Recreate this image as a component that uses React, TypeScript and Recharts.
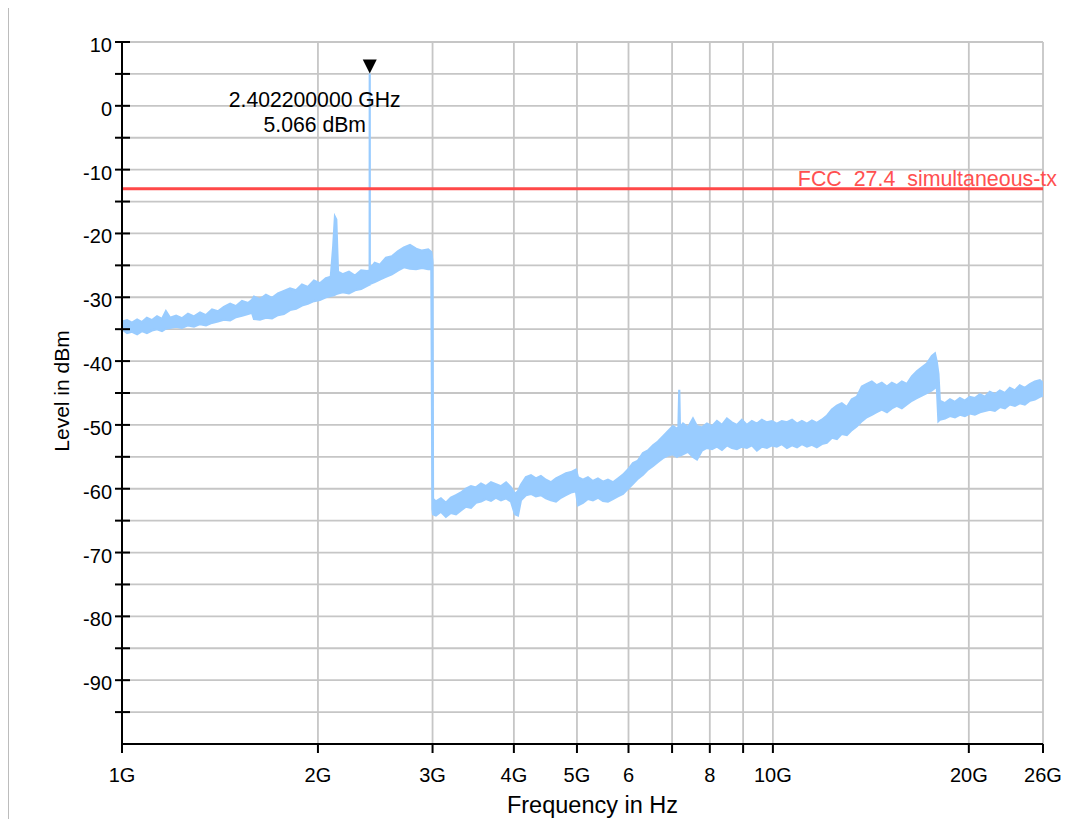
import { Area, CartesianGrid, ComposedChart, ReferenceDot, ReferenceLine, XAxis, YAxis } from "recharts"

// spectrum sweep: frequency (GHz), band bottom / top (dBm)
const freqGHz = [
  1.0, 1.018, 1.036, 1.055, 1.073, 1.092, 1.112, 1.132, 1.152, 1.168, 1.185, 1.211, 1.236, 1.263, 1.29, 1.318,
  1.346, 1.375, 1.404, 1.434, 1.466, 1.497, 1.529, 1.562, 1.584, 1.595, 1.629, 1.664, 1.7, 1.736, 1.773, 1.812,
  1.851, 1.89, 1.93, 1.972, 2.014, 2.057, 2.093, 2.111, 2.124, 2.134, 2.147, 2.183, 2.232, 2.28, 2.33, 2.38,
  2.4015, 2.4022, 2.4029, 2.445, 2.49, 2.544, 2.598, 2.653, 2.711, 2.77, 2.83, 2.891, 2.954, 2.987, 2.999, 3.005,
  3.036, 3.09, 3.145, 3.201, 3.259, 3.317, 3.376, 3.437, 3.498, 3.561, 3.624, 3.689, 3.755, 3.822, 3.891, 3.959,
  4.015, 4.058, 4.101, 4.174, 4.249, 4.324, 4.401, 4.48, 4.56, 4.642, 4.724, 4.809, 4.895, 4.983, 5.018, 5.107,
  5.198, 5.29, 5.385, 5.482, 5.579, 5.679, 5.78, 5.884, 5.989, 6.096, 6.204, 6.315, 6.427, 6.545, 6.659, 6.776,
  6.898, 7.021, 7.121, 7.159, 7.18, 7.198, 7.276, 7.405, 7.537, 7.645, 7.781, 7.92, 8.061, 8.204, 8.35, 8.499,
  8.65, 8.804, 8.962, 9.121, 9.284, 9.45, 9.618, 9.79, 9.965, 10.14, 10.32, 10.51, 10.7, 10.89, 11.08, 11.28,
  11.48, 11.68, 11.89, 12.1, 12.32, 12.54, 12.76, 12.99, 13.22, 13.46, 13.7, 13.94, 14.19, 14.44, 14.7, 14.97,
  15.23, 15.5, 15.78, 16.06, 16.35, 16.64, 16.94, 17.24, 17.55, 17.74, 17.86, 17.96, 18.05, 18.38, 18.71, 19.04,
  19.38, 19.72, 20.07, 20.43, 20.8, 21.17, 21.54, 21.93, 22.32, 22.72, 23.12, 23.54, 23.95, 24.38, 24.82, 25.26,
  25.71, 26.0,
]
const levelLow = [
  -35.0, -35.6, -35.4, -35.8, -35.3, -35.6, -35.2, -35.0, -35.3, -34.9, -34.8, -34.6, -34.8, -34.4, -34.6, -34.2,
  -34.4, -34.0, -33.8, -33.5, -33.6, -33.1, -32.9, -32.6, -32.4, -33.4, -33.5, -33.2, -33.3, -32.8, -32.6, -32.0,
  -31.8, -31.3, -31.0, -30.6, -30.4, -30.0, -29.8, -29.7, -29.6, -29.5, -29.4, -29.2, -29.4, -28.9, -28.7, -28.2,
  -28.0, -28.0, -27.9, -27.6, -27.2, -26.8, -26.4, -25.8, -25.3, -25.5, -25.6, -25.4, -25.6, -25.6, -63.2, -64.0,
  -64.2, -63.6, -64.4, -63.8, -64.0, -63.4, -62.8, -63.0, -62.2, -62.0, -61.6, -61.9, -61.4, -61.8, -61.5, -62.0,
  -64.0, -64.2, -61.8, -61.0, -60.8, -61.2, -61.0, -61.5, -61.8, -62.0, -61.4, -61.0, -60.6, -60.4, -62.6, -62.2,
  -61.6, -61.8, -61.4, -61.9, -62.0, -61.6, -61.2, -60.8, -60.0, -59.2, -58.4, -57.8, -57.0, -56.4, -55.8, -55.2,
  -54.8, -54.6, -55.0, -54.8, -54.8, -54.8, -54.6, -54.2, -55.0, -55.4, -54.0, -53.6, -53.8, -53.4, -53.9, -53.2,
  -53.6, -53.8, -53.4, -53.6, -53.2, -54.0, -53.4, -53.6, -53.2, -53.4, -53.0, -53.6, -53.2, -53.5, -53.0, -53.4,
  -53.1, -53.5, -53.0, -52.8, -52.0, -52.2, -51.4, -51.6, -50.8, -50.2, -49.4, -48.8, -48.4, -48.0, -47.6, -48.0,
  -47.4, -47.0, -47.4, -46.8, -46.2, -45.8, -45.4, -45.0, -44.6, -44.2, -44.0, -49.4, -49.2, -49.0, -48.6, -48.8,
  -48.4, -48.6, -48.2, -48.4, -48.0, -47.8, -47.6, -47.8, -47.2, -47.4, -46.8, -47.0, -46.6, -46.8, -46.2, -46.0,
  -45.6, -45.4,
]
const levelHigh = [
  -33.8, -33.6, -34.0, -33.5, -33.9, -33.2, -33.6, -33.0, -33.4, -32.2, -33.2, -32.9, -33.3, -32.6, -33.0, -32.4,
  -32.8, -31.9, -32.2, -31.5, -31.0, -31.4, -30.6, -30.9, -30.4, -29.9, -30.3, -29.6, -30.1, -29.4, -29.0, -28.6,
  -28.9, -28.0, -28.4, -27.4, -27.8, -27.0, -26.8, -22.0, -17.4, -17.8, -26.0, -26.4, -26.0, -26.6, -25.8, -25.9,
  -25.8, 5.066, -25.6, -24.6, -24.9, -23.8, -23.6, -22.8, -22.2, -21.8, -22.4, -22.7, -22.5, -22.9, -24.5, -61.6,
  -62.0, -61.5, -62.2, -61.4, -61.0, -60.6, -60.0, -59.6, -59.8, -59.2, -59.6, -59.0, -59.3, -59.6, -59.0, -59.8,
  -60.8, -60.4, -59.4, -58.2, -57.9, -58.4, -58.0, -58.6, -59.0, -58.4, -58.0, -57.6, -57.4, -57.0, -58.2, -58.6,
  -58.2, -58.8, -58.4, -58.9, -58.6, -59.0, -58.4, -57.8, -57.0, -56.0, -55.6, -54.4, -54.0, -53.2, -52.6, -51.8,
  -51.0, -50.2, -50.6, -50.4, -44.5, -50.4, -49.8, -50.4, -49.0, -50.2, -50.4, -49.8, -50.2, -49.4, -50.0, -49.0,
  -49.6, -50.0, -49.2, -50.0, -49.4, -49.8, -49.2, -49.6, -49.4, -49.8, -49.4, -49.6, -49.2, -49.8, -49.4, -49.8,
  -49.3, -49.7, -49.2, -48.6, -47.6, -47.0, -46.6, -47.2, -46.0, -45.6, -44.0, -43.6, -43.2, -43.8, -43.4, -44.0,
  -43.4, -43.8, -43.2, -43.6, -42.4, -41.6, -41.0, -40.4, -39.2, -38.8, -40.2, -42.0, -46.2, -46.6, -46.0, -46.4,
  -45.8, -46.2, -45.6, -45.8, -45.2, -45.6, -44.8, -45.2, -44.6, -45.0, -44.2, -44.6, -43.8, -44.2, -43.6, -43.2,
  -43.0, -43.4,
]

const xTickValues = [1, 2, 3, 4, 5, 6, 7, 8, 9, 10, 20, 26]
const xTickLabels = ["1G", "2G", "3G", "4G", "5G", "6", "", "8", "", "10G", "20G", "26G"]
const yTickValues = [-100, -95, -90, -85, -80, -75, -70, -65, -60, -55, -50, -45, -40, -35, -30, -25, -20, -15, -10, -5, 0, 5, 10]
const yLabelValues = [10, 0, -10, -20, -30, -40, -50, -60, -70, -80, -90]

const limitLevel = -13
const limitName = "FCC  27.4  simultaneous-tx"
const markerFreq = 2.4022
const markerLevel = 5.066

const trace = freqGHz.map((f, i) => ({ f, range: [levelLow[i], levelHigh[i]] }))

const FONT = '"Liberation Sans", Arial, sans-serif'

const XTick = (props: any) => {
  const { x, y, payload } = props
  const i = xTickValues.indexOf(payload.value)
  return (
    <text x={x} y={y} dy={29} textAnchor="middle" fontSize={20} fill="#000" fontFamily={FONT}>
      {xTickLabels[i]}
    </text>
  )
}

const YTick = (props: any) => {
  const { x, y, payload } = props
  const v = payload.value
  return (
    <g>
      {v > -100 && <line x1={x - 7} x2={x + 8} y1={y} y2={y} stroke="#000" strokeWidth={2} />}
      {yLabelValues.includes(v) && (
        <text x={x - 10} y={y} dy={10} textAnchor="end" fontSize={20} fill="#000" fontFamily={FONT}>
          {v}
        </text>
      )}
    </g>
  )
}

const LimitLabel = (props: any) => {
  const { viewBox } = props
  return (
    <text
      x={viewBox.x + viewBox.width + 14}
      y={viewBox.y - 3}
      textAnchor="end"
      fontSize={21.4}
      fill="#ff5050"
      fontFamily={FONT}
      style={{ whiteSpace: "pre" }}
    >
      {limitName}
    </text>
  )
}

const Marker = (props: any) => {
  const { cx, cy } = props
  return (
    <g fontFamily={FONT} fontSize={21.2} fill="#000">
      <polygon points={`${cx - 7},${cy - 14} ${cx + 7},${cy - 14} ${cx},${cy}`} fill="#000" />
      <text x={cx - 55} y={cy + 34} textAnchor="middle">{`${markerFreq.toFixed(9)} GHz`}</text>
      <text x={cx - 55} y={cy + 59} textAnchor="middle">{`${markerLevel.toFixed(3)} dBm`}</text>
    </g>
  )
}

const App = () => {
  return (
    <div style={{ position: "relative", marginTop: -1, width: 1069, height: 811, borderTop: "1px solid #bcbcbc", borderLeft: "1px solid #bcbcbc" }}>
      <style>{"body{overflow:hidden}"}</style>
      <ComposedChart width={1069} height={811} data={trace} margin={{ top: 34, right: 35, left: 0, bottom: 0 }}>
        <CartesianGrid stroke="#c6c6c6" strokeWidth={1.8} />
        <XAxis
          dataKey="f"
          type="number"
          scale="log"
          domain={[1, 26]}
          ticks={xTickValues}
          allowDataOverflow
          height={75}
          tickSize={9}
          tickMargin={0}
          tick={<XTick />}
          axisLine={{ stroke: "#000", strokeWidth: 2 }}
          tickLine={{ stroke: "#000", strokeWidth: 2 }}
        />
        <YAxis
          type="number"
          domain={[-100, 10]}
          ticks={yTickValues}
          allowDataOverflow
          width={113}
          tickSize={0}
          tickMargin={0}
          tickLine={false}
          tick={<YTick />}
          axisLine={{ stroke: "#000", strokeWidth: 2 }}
        />
        <Area
          type="linear"
          dataKey="range"
          stroke="#99ccff"
          strokeWidth={2.2}
          fill="#99ccff"
          fillOpacity={1}
          dot={false}
          activeDot={false}
          isAnimationActive={false}
        />
        <ReferenceLine y={limitLevel} stroke="#ff4848" strokeWidth={3} label={<LimitLabel />} />
        <ReferenceDot x={markerFreq} y={markerLevel} r={0} shape={<Marker />} />
      </ComposedChart>
      <svg width={1069} height={811} style={{ position: "absolute", left: 0, top: 0, pointerEvents: "none" }} fontFamily={FONT}>
        <text x={583.5} y={805} textAnchor="middle" fontSize={23.5} fill="#000">Frequency in Hz</text>
        <text transform="translate(60,383) rotate(-90)" textAnchor="middle" fontSize={21} fill="#000">Level in dBm</text>
      </svg>
    </div>
  )
}

export default App
